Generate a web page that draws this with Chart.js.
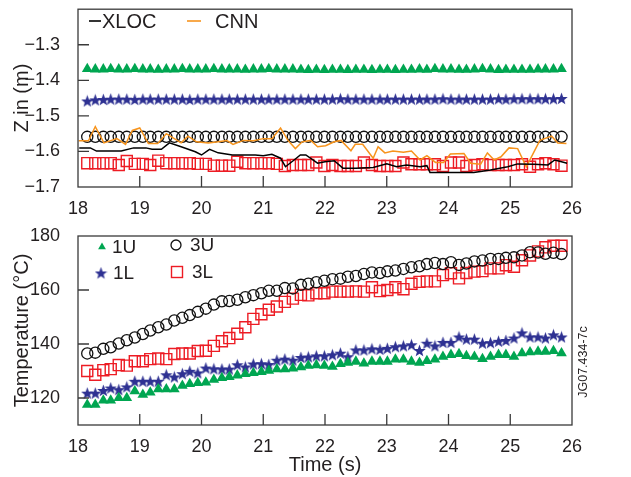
<!DOCTYPE html>
<html><head><meta charset="utf-8">
<script src="https://cdn.jsdelivr.net/npm/chart.js@4.4.1/dist/chart.umd.min.js"></script>
<style>
html,body{margin:0;padding:0;background:#fff;width:631px;height:477px;overflow:hidden}
#c1{position:absolute;left:0;top:0;width:631px;height:215px}
#c2{position:absolute;left:0;top:215px;width:631px;height:262px}
</style></head><body>
<canvas id="c1" width="631" height="215"></canvas>
<canvas id="c2" width="631" height="262"></canvas>
<script>
// ---------- DATA ----------
const xTicks = [18,19,20,21,22,23,24,25,26];
const zTicks = [-1.7,-1.6,-1.5,-1.4,-1.3];
const tempTicks = [120,140,160,180];

const times = [18.15,18.28,18.41,18.53,18.66,18.79,18.92,19.05,19.17,19.30,
19.43,19.56,19.69,19.81,19.94,20.07,20.20,20.33,20.45,20.58,
20.71,20.84,20.97,21.09,21.22,21.35,21.48,21.61,21.73,21.86,
21.99,22.12,22.25,22.37,22.50,22.63,22.76,22.89,23.01,23.14,
23.27,23.40,23.53,23.65,23.78,23.91,24.04,24.17,24.29,24.42,
24.55,24.68,24.81,24.93,25.06,25.19,25.32,25.45,25.57,25.70,25.83];

// Z position (m)
const z1U = [-1.368,-1.369,-1.369,-1.368,-1.369,-1.369,-1.368,-1.369,-1.369,-1.370,
-1.369,-1.369,-1.368,-1.369,-1.369,-1.369,-1.368,-1.369,-1.369,-1.369,
-1.370,-1.369,-1.369,-1.368,-1.369,-1.369,-1.369,-1.370,-1.371,-1.370,
-1.371,-1.370,-1.370,-1.371,-1.370,-1.370,-1.371,-1.370,-1.370,-1.371,
-1.370,-1.370,-1.369,-1.370,-1.368,-1.369,-1.369,-1.370,-1.370,-1.369,
-1.368,-1.369,-1.371,-1.370,-1.370,-1.370,-1.370,-1.369,-1.369,-1.369,-1.368];
const z1L = [-1.458,-1.455,-1.454,-1.453,-1.453,-1.453,-1.454,-1.453,-1.453,-1.453,
-1.453,-1.453,-1.453,-1.454,-1.453,-1.453,-1.453,-1.453,-1.453,-1.453,
-1.453,-1.453,-1.453,-1.453,-1.453,-1.453,-1.453,-1.453,-1.453,-1.453,
-1.453,-1.453,-1.452,-1.453,-1.453,-1.453,-1.453,-1.453,-1.453,-1.453,
-1.453,-1.453,-1.453,-1.453,-1.453,-1.452,-1.453,-1.453,-1.453,-1.453,
-1.453,-1.453,-1.452,-1.453,-1.452,-1.452,-1.452,-1.452,-1.452,-1.452,-1.451];
const z3U = [-1.559,-1.559,-1.559,-1.559,-1.559,-1.559,-1.559,-1.559,-1.559,-1.559,
-1.559,-1.559,-1.559,-1.559,-1.559,-1.559,-1.559,-1.559,-1.559,-1.559,
-1.559,-1.559,-1.559,-1.559,-1.559,-1.559,-1.559,-1.559,-1.559,-1.559,
-1.559,-1.559,-1.559,-1.559,-1.559,-1.559,-1.559,-1.559,-1.559,-1.559,
-1.559,-1.559,-1.559,-1.559,-1.559,-1.559,-1.559,-1.559,-1.559,-1.559,
-1.559,-1.559,-1.559,-1.559,-1.559,-1.559,-1.559,-1.559,-1.559,-1.559,-1.559];
const z3L = [-1.633,-1.633,-1.633,-1.633,-1.638,-1.627,-1.635,-1.635,-1.638,-1.626,
-1.633,-1.633,-1.633,-1.633,-1.635,-1.635,-1.640,-1.640,-1.640,-1.629,
-1.633,-1.633,-1.633,-1.633,-1.635,-1.641,-1.638,-1.638,-1.638,-1.631,
-1.641,-1.638,-1.641,-1.641,-1.641,-1.631,-1.638,-1.641,-1.641,-1.641,
-1.631,-1.636,-1.636,-1.636,-1.636,-1.641,-1.631,-1.631,-1.641,-1.638,
-1.636,-1.638,-1.638,-1.638,-1.638,-1.636,-1.643,-1.636,-1.633,-1.636,-1.640];

const xlocT = [18.02,18.20,18.30,18.70,18.90,19.10,19.20,19.35,19.48,19.67,
19.90,20.00,20.13,20.27,20.50,20.87,21.00,21.14,21.28,21.36,
21.50,21.60,21.69,21.88,22.00,22.15,22.29,22.50,22.78,23.00,
23.16,23.32,23.54,23.65,23.70,24.41,24.68,24.96,25.12,25.39,
25.61,25.72,25.83,25.92];
const xlocZ = [-1.590,-1.590,-1.599,-1.599,-1.590,-1.590,-1.594,-1.594,-1.576,-1.587,
-1.601,-1.610,-1.594,-1.604,-1.610,-1.610,-1.612,-1.608,-1.619,-1.643,
-1.624,-1.610,-1.610,-1.633,-1.629,-1.626,-1.647,-1.647,-1.645,-1.635,
-1.643,-1.638,-1.643,-1.640,-1.659,-1.659,-1.652,-1.643,-1.635,-1.636,
-1.638,-1.624,-1.629,-1.633];

const cnnT = [18.01,18.17,18.28,18.42,18.63,18.77,18.88,19.00,19.14,19.29,
19.43,19.56,19.67,19.78,19.92,20.11,20.27,20.41,20.51,20.68,
20.84,21.00,21.14,21.28,21.40,21.52,21.63,21.77,21.88,22.01,
22.15,22.26,22.42,22.49,22.61,22.78,22.86,22.97,23.10,23.27,
23.40,23.54,23.65,23.79,23.92,24.03,24.25,24.36,24.52,24.63,
24.74,24.85,24.98,25.12,25.26,25.37,25.48,25.67,25.77,25.91];
const cnnZ = [-1.570,-1.570,-1.530,-1.576,-1.564,-1.580,-1.541,-1.534,-1.578,-1.578,
-1.550,-1.564,-1.576,-1.557,-1.573,-1.576,-1.573,-1.569,-1.580,-1.569,
-1.570,-1.564,-1.564,-1.534,-1.569,-1.592,-1.573,-1.569,-1.587,-1.584,
-1.573,-1.569,-1.598,-1.580,-1.580,-1.619,-1.587,-1.604,-1.599,-1.602,
-1.599,-1.624,-1.612,-1.631,-1.631,-1.607,-1.606,-1.633,-1.636,-1.604,
-1.624,-1.615,-1.590,-1.592,-1.643,-1.606,-1.569,-1.557,-1.576,-1.578];

// Temperature (°C)
const temp1U = [117.5,117.5,119.1,119.1,120.0,120.0,122.5,121.2,122.1,123.3,
123.3,123.3,124.6,125.2,125.6,125.8,126.8,127.4,127.8,128.4,
128.9,129.3,129.7,130.1,130.7,130.7,131.0,131.4,132.0,132.2,
132.0,131.6,132.6,133.1,133.5,132.8,133.5,133.5,133.5,134.3,
134.3,133.5,133.1,133.7,134.3,135.3,136.0,136.3,135.6,135.3,
134.5,135.3,136.0,136.0,135.3,136.6,137.0,137.2,137.2,137.4,136.6];
const temp1L = [121.8,121.8,122.8,123.7,123.1,124.1,126.2,126.2,126.2,126.2,
128.6,127.8,129.0,129.9,129.3,131.1,130.8,130.7,130.7,132.3,
131.5,132.6,132.7,132.4,134.0,134.4,134.0,135.0,135.2,135.6,
135.6,136.0,136.6,135.3,137.8,137.8,138.2,138.0,138.4,139.0,
139.3,139.7,137.6,140.3,139.3,140.6,140.6,142.6,141.8,141.8,
140.3,140.5,141.0,141.3,142.2,144.1,142.6,142.6,142.2,143.4,142.6];
const temp3U = [136.5,136.8,138.2,138.8,140.2,141.4,142.4,143.7,145.0,146.2,
147.2,148.7,149.7,150.7,151.9,153.1,154.6,155.8,155.9,156.4,
157.3,158.1,158.8,159.7,159.7,160.7,160.6,161.9,162.3,162.9,
163.4,164.0,164.2,164.9,165.2,165.9,166.5,166.3,166.9,167.2,
167.8,168.4,168.8,169.6,170.0,169.6,170.3,169.3,169.8,170.6,
170.9,171.5,171.5,171.9,172.1,172.8,174.0,173.9,173.4,173.8,173.3];
const temp3L = [130.0,128.6,130.3,130.7,132.2,132.0,133.6,133.6,134.4,134.6,
134.4,136.3,136.5,136.5,137.4,137.5,139.3,141.0,142.2,143.8,
146.2,149.3,151.0,152.7,153.9,155.6,156.8,158.2,158.0,158.8,
158.8,159.4,159.4,159.4,159.5,159.4,161.0,159.6,160.0,161.0,
160.3,162.3,163.0,163.2,163.2,165.5,166.2,164.3,166.3,166.8,
167.0,168.0,168.0,169.2,168.6,171.0,172.8,174.3,175.8,176.4,176.4];

// ---------- STYLE / RENDER ----------
Chart.defaults.font.family = '"Liberation Sans", Arial, Helvetica, sans-serif';
Chart.defaults.color = '#231f20';
const FONT = '"Liberation Sans", Arial, Helvetica, sans-serif';
const GREEN = '#00a651', NAVY = '#2e3192', RED = '#ed1c24', ORANGE = '#f7941d';

function makeStar(size, color) {
  const c = document.createElement('canvas');
  c.width = size; c.height = size;
  const g = c.getContext('2d');
  const R = size / 2, r = R * 0.42;
  g.beginPath();
  for (let k = 0; k < 10; k++) {
    const a = -Math.PI / 2 + k * Math.PI / 5;
    const rr = (k % 2) ? r : R;
    g.lineTo(R + rr * Math.cos(a), R + 0.6 + rr * Math.sin(a));
  }
  g.closePath(); g.fillStyle = color; g.fill();
  return c;
}
const STAR = makeStar(13, NAVY);

const xy = (xs, ys) => xs.map((x, i) => ({x, y: ys[i]}));

const framePlugin = {
  id: 'frame',
  afterDatasetsDraw(chart) {
    const {ctx, chartArea: a, scales} = chart;
    ctx.save();
    ctx.strokeStyle = '#3a3a3a';
    ctx.lineWidth = 1.3;
    ctx.beginPath();
    scales.x.ticks.forEach(t => {
      const px = scales.x.getPixelForValue(t.value);
      if (px <= a.left + 1 || px >= a.right - 1) return;
      ctx.moveTo(px, a.bottom); ctx.lineTo(px, a.bottom - 11);
    });
    scales.y.ticks.forEach(t => {
      const py = scales.y.getPixelForValue(t.value);
      if (py <= a.top + 1 || py >= a.bottom - 1) return;
      ctx.moveTo(a.left, py); ctx.lineTo(a.left + 11, py);
    });
    ctx.stroke();
    ctx.strokeRect(a.left, a.top, a.right - a.left, a.bottom - a.top);
    ctx.restore();
  }
};

function drawMarker(ctx, ds, x, y, size) {
  ctx.save();
  const st = ds.pointStyle;
  if (ds.showLine && (ds.pointRadius === 0)) {
    ctx.strokeStyle = ds.borderColor; ctx.lineWidth = 1.6;
    ctx.beginPath(); ctx.moveTo(x - size / 2, y); ctx.lineTo(x + size / 2, y); ctx.stroke();
  } else if (st === 'triangle') {
    const r = size / 2;
    ctx.fillStyle = ds.backgroundColor;
    ctx.beginPath();
    ctx.moveTo(x, y - r);
    ctx.lineTo(x + r * 0.866, y + r * 0.5);
    ctx.lineTo(x - r * 0.866, y + r * 0.5);
    ctx.closePath(); ctx.fill();
  } else if (st === 'circle') {
    ctx.strokeStyle = ds.borderColor; ctx.lineWidth = ds.borderWidth;
    ctx.beginPath(); ctx.arc(x, y, size / 2, 0, Math.PI * 2); ctx.stroke();
  } else if (st === 'rect') {
    ctx.strokeStyle = ds.borderColor; ctx.lineWidth = ds.borderWidth;
    ctx.strokeRect(x - size / 2, y - size / 2, size, size);
  } else if (st instanceof HTMLCanvasElement) {
    ctx.drawImage(st, x - st.width / 2, y - st.height / 2);
  }
  ctx.restore();
}

const legendPlugin = {
  id: 'cLegend',
  afterDraw(chart, args, opts) {
    const ctx = chart.ctx;
    ctx.save();
    ctx.font = opts.font;
    ctx.textBaseline = 'middle';
    opts.items.forEach(it => {
      const ds = chart.data.datasets[it.index];
      drawMarker(ctx, ds, it.mx, it.y, it.size);
      ctx.fillStyle = '#231f20';
      ctx.fillText(ds.label, it.tx, it.y + 1);
    });
    ctx.restore();
  }
};

const notePlugin = {
  id: 'note',
  afterDraw(chart, args, opts) {
    if (!opts.text) return;
    const ctx = chart.ctx;
    ctx.save();
    ctx.translate(opts.x, opts.y);
    ctx.rotate(-Math.PI / 2);
    ctx.font = opts.font;
    ctx.fillStyle = '#231f20';
    ctx.textAlign = 'center';
    ctx.textBaseline = 'middle';
    ctx.fillText(opts.text, 0, 0);
    ctx.restore();
  }
};

function markerSets(ys1U, ys1L, ys3U, ys3L) {
  return [
    {label: '1U', data: xy(times, ys1U), pointStyle: 'triangle', pointRadius: 6.2,
     backgroundColor: GREEN, borderColor: GREEN, borderWidth: 0, showLine: false},
    {label: '1L', data: xy(times, ys1L), pointStyle: STAR, pointRadius: 6,
     backgroundColor: NAVY, borderColor: NAVY, borderWidth: 0, showLine: false},
    {label: '3U', data: xy(times, ys3U), pointStyle: 'circle', pointRadius: 5.6,
     backgroundColor: 'rgba(0,0,0,0)', borderColor: '#111', borderWidth: 1.3, showLine: false},
    {label: '3L', data: xy(times, ys3L), pointStyle: 'rect', pointRadius: 7.8,
     backgroundColor: 'rgba(0,0,0,0)', borderColor: RED, borderWidth: 1.4, showLine: false}
  ];
}

function xScale(height, title) {
  return {
    type: 'linear', min: 18, max: 26,
    afterBuildTicks: s => { s.ticks = xTicks.map(v => ({value: v})); },
    afterFit: s => { s.height = height; s.paddingLeft = 0; s.paddingRight = 0; },
    grid: {display: false}, border: {display: false},
    ticks: {padding: 3, color: '#231f20', font: {size: 18}, maxRotation: 0, autoSkip: false,
            callback: v => String(v)},
    title: title ? {display: true, text: title, color: '#231f20',
                    font: {size: 20, lineHeight: 1.2}, padding: {top: 0, bottom: 0}} : {display: false}
  };
}
function yScale(min, max, tks, title, fmt) {
  return {
    type: 'linear', min, max,
    afterBuildTicks: s => { s.ticks = tks.map(v => ({value: v})); },
    afterFit: s => { s.width = 78; s.paddingTop = 0; s.paddingBottom = 0; },
    grid: {display: false}, border: {display: false},
    ticks: {padding: 10, color: '#231f20', font: {size: 18}, callback: fmt},
    title: {display: true, text: title, color: '#231f20',
            font: {size: 20, lineHeight: 1.2}, padding: {top: 10, bottom: 10}}
  };
}

const common = {
  responsive: false, animation: false, devicePixelRatio: 1, events: [],
  plugins: {legend: {display: false}, tooltip: {enabled: false}}
};

// Top chart: Z position
const topSets = [
  {label: 'XLOC', data: xy(xlocT, xlocZ), showLine: true, borderColor: '#000', borderWidth: 1.5,
   pointRadius: 0, backgroundColor: '#000', tension: 0},
  {label: 'CNN', data: xy(cnnT, cnnZ), showLine: true, borderColor: ORANGE, borderWidth: 1.5,
   pointRadius: 0, backgroundColor: ORANGE, tension: 0}
].concat(markerSets(z1U, z1L, z3U, z3L));

new Chart(document.getElementById('c1'), {
  type: 'scatter',
  data: {datasets: topSets},
  options: Object.assign({}, common, {
    layout: {padding: {left: 0, right: 59, top: 8, bottom: 0}},
    scales: {
      x: xScale(28, null),
      y: yScale(-1.7, -1.2, zTicks, 'Z in (m)', v => v.toFixed(1).replace('-', '\u2212'))
    },
    plugins: Object.assign({}, common.plugins, {
      cLegend: {font: '20px ' + FONT, items: [
        {index: 0, mx: 95, tx: 102, y: 21, size: 12},
        {index: 1, mx: 194, tx: 215, y: 21, size: 14}
      ]}
    })
  }),
  plugins: [framePlugin, legendPlugin]
});

// Bottom chart: temperature
new Chart(document.getElementById('c2'), {
  type: 'scatter',
  data: {datasets: markerSets(temp1U, temp1L, temp3U, temp3L)},
  options: Object.assign({}, common, {
    layout: {padding: {left: 0, right: 59, top: 21, bottom: 0}},
    scales: {
      x: xScale(52, 'Time (s)'),
      y: yScale(110, 180, tempTicks, 'Temperature (\u00B0C)', v => String(v))
    },
    plugins: Object.assign({}, common.plugins, {
      cLegend: {font: '19px ' + FONT, items: [
        {index: 0, mx: 102, tx: 112, y: 32, size: 9},
        {index: 2, mx: 176, tx: 190, y: 30, size: 10},
        {index: 1, mx: 101, tx: 113, y: 58, size: 0},
        {index: 3, mx: 177, tx: 192, y: 57, size: 11}
      ]},
      note: {text: 'JG07.434-7c', x: 584, y: 147, font: '12.5px ' + FONT}
    })
  }),
  plugins: [framePlugin, legendPlugin, notePlugin]
});
</script>
</body></html>
